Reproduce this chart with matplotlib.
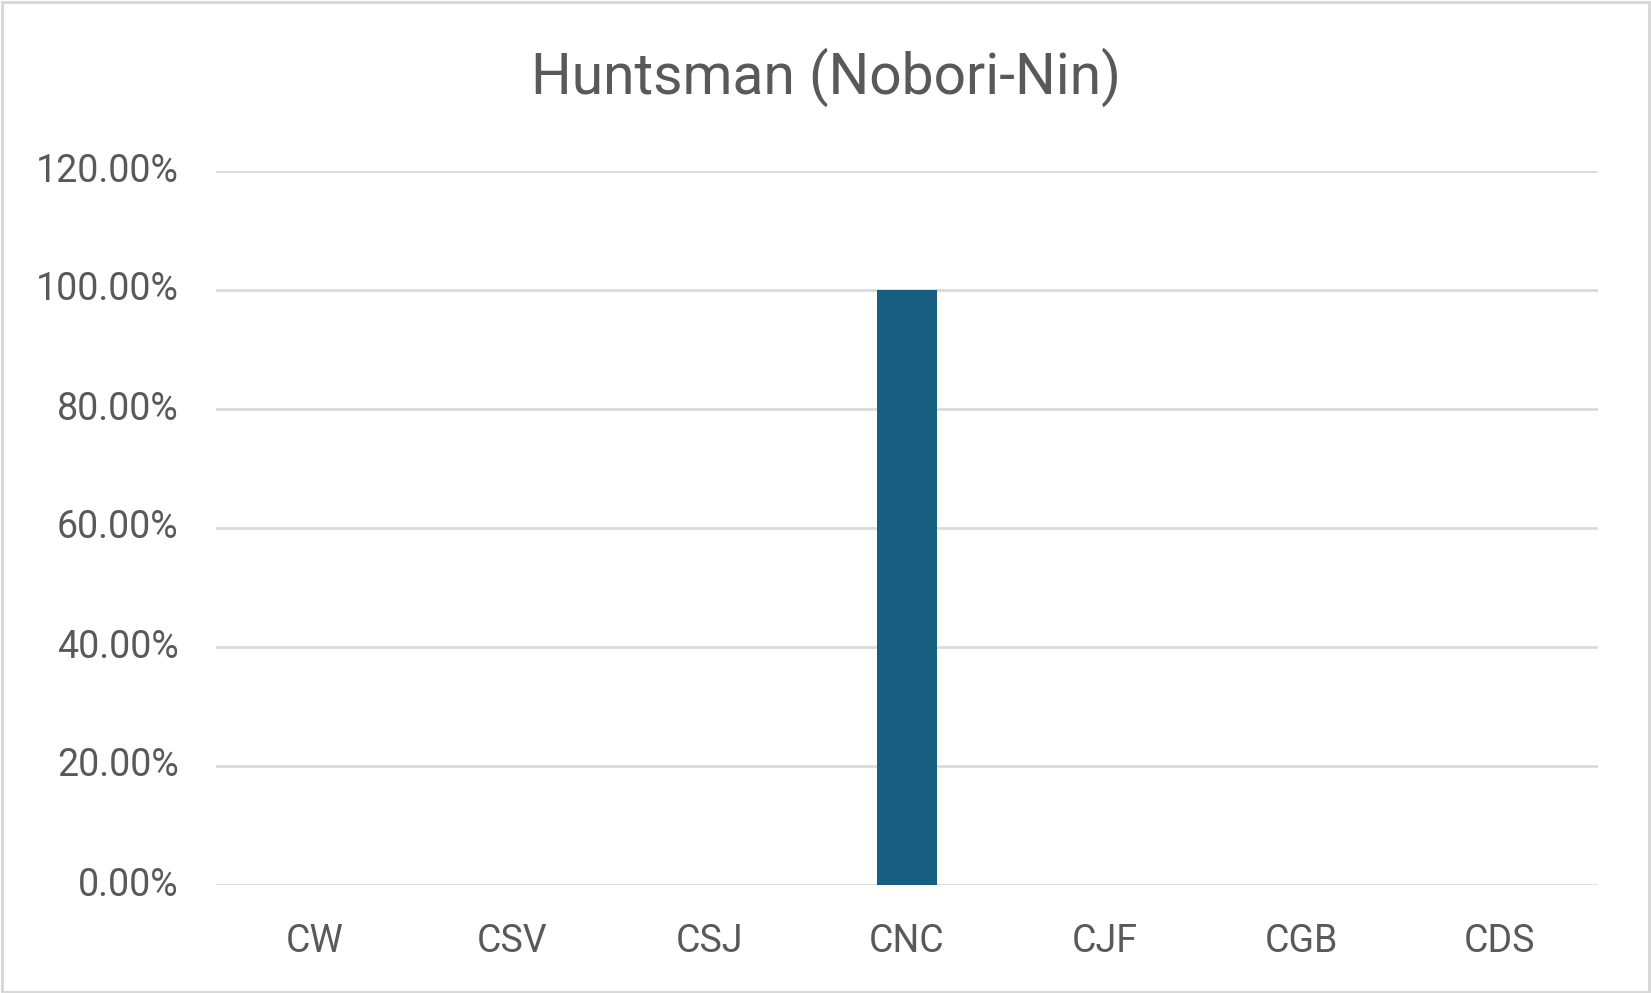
import matplotlib
matplotlib.use("Agg")
import matplotlib.pyplot as plt
from matplotlib.patches import Rectangle
from matplotlib.ticker import FuncFormatter

categories = ["CW", "CSV", "CSJ", "CNC", "CJF", "CGB", "CDS"]
values = [0.0, 0.0, 0.0, 1.0, 0.0, 0.0, 0.0]
yticks = [0.0, 0.2, 0.4, 0.6, 0.8, 1.0, 1.2]
title = "Huntsman (Nobori-Nin)"

plt.rcParams['font.family'] = ['Roboto', 'DejaVu Sans']
text_color = "#595959"
grid_color = "#d9d9d9"
bar_color = "#175e80"

fig = plt.figure(figsize=(16.51, 9.93), dpi=100)
ax = fig.add_axes([216/1651, 1-885/993, (1598-216)/1651, (885-171)/993])

x = list(range(len(categories)))
ax.bar(x, values, width=0.30, color=bar_color, zorder=3)
ax.set_xlim(-0.5, len(categories) - 0.5)
ax.set_ylim(0, 1.2)
ax.set_yticks(yticks)
ax.yaxis.set_major_formatter(FuncFormatter(lambda v, p: f"{v*100:.2f}%"))
ax.set_xticks(x)
ax.set_xticklabels(categories)

ax.grid(axis='y', color=grid_color, linewidth=1.9, zorder=0)
ax.grid(axis='x', visible=False)
for s in ax.spines.values():
    s.set_visible(False)
ax.tick_params(axis='both', length=0, colors=text_color, labelsize=27)
ax.tick_params(axis='y', pad=27)
ax.tick_params(axis='x', pad=27)
for lbl in ax.get_yticklabels():
    lbl.set_verticalalignment('center')

fig.text(0.5, 1 - 77/993, title, ha='center', va='center', fontsize=41, color=text_color)

fig.patches.append(Rectangle((0.001, 0.001), 0.998, 0.997, transform=fig.transFigure,
                             fill=False, edgecolor=grid_color, linewidth=2.2))

fig.savefig("out.png", dpi=100, facecolor="white")
